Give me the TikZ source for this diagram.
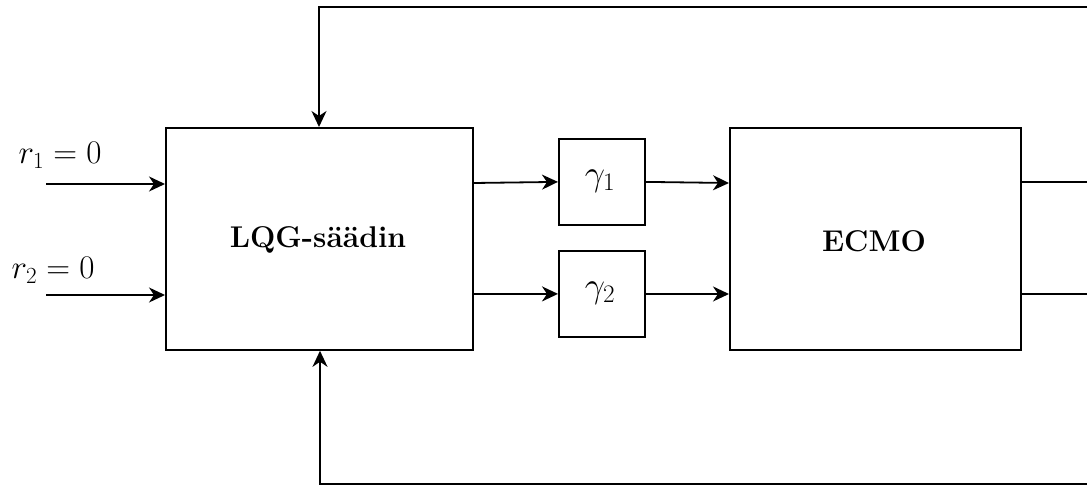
\RequirePackage{fix-cm}
\documentclass[tikz,border=0pt]{standalone}
\usetikzlibrary{arrows.meta}
\begin{document}
\begin{tikzpicture}[x=1pt,y=-1pt,
  blk/.style={draw,line width=1.8pt,inner sep=0pt,anchor=north west},
  conn/.style={line width=1.8pt,-{Stealth[length=16pt,width=15pt,inset=5pt]}},
  wire/.style={line width=1.8pt},
  lbl/.style={font=\fontsize{30}{36}\selectfont},
  mlbl/.style={font=\fontsize{33}{40}\selectfont},
  glbl/.style={font=\fontsize{36}{42}\selectfont}]
\useasboundingbox (0,0) rectangle (1087,486);
\node[blk,minimum width=307pt,minimum height=222pt] (lqg) at (165,127) {};
\node[lbl] at (318,240) {\textbf{LQG-säädin}};
\node[blk,minimum width=86pt,minimum height=86pt] (g1) at (558,138) {};
\node[glbl] at (600,181) {$\gamma_1$};
\node[blk,minimum width=86pt,minimum height=86pt] (g2) at (558,250) {};
\node[glbl] at (600,293) {$\gamma_2$};
\node[blk,minimum width=291pt,minimum height=222pt] (ecmo) at (729,127) {};
\node[lbl] at (874,241) {\textbf{ECMO}};
\node[mlbl] (r1) at (60,155) {$r_1=0$};
\node[mlbl] (r2) at (53,270) {$r_2=0$};
\coordinate (i1) at (46,184);
\coordinate (i2) at (46,295);
\coordinate (o1) at (1087,182);
\coordinate (o2) at (1087,294);
\coordinate (tr) at (1087,7);
\coordinate (tl) at (319,7);
\coordinate (br) at (1087,484);
\coordinate (bl) at (320,484);
\draw[conn] (i1) -- (i1 -| lqg.west);
\draw[conn] (i2) -- (i2 -| lqg.west);
\draw[conn] (lqg.east |- 0,183) -- (g1.west);
\draw[conn] (lqg.east |- 0,294) -- (g2.west);
\draw[conn] (g1.east) -- (ecmo.west |- 0,183);
\draw[conn] (g2.east) -- (ecmo.west |- 0,294);
\draw[wire] (ecmo.east |- o1) -- (o1);
\draw[wire] (ecmo.east |- o2) -- (o2);
\draw[conn] (tr) -- (tl) -- (tl |- lqg.north);
\draw[conn] (br) -- (bl) -- (bl |- lqg.south);
\end{tikzpicture}
\end{document}
